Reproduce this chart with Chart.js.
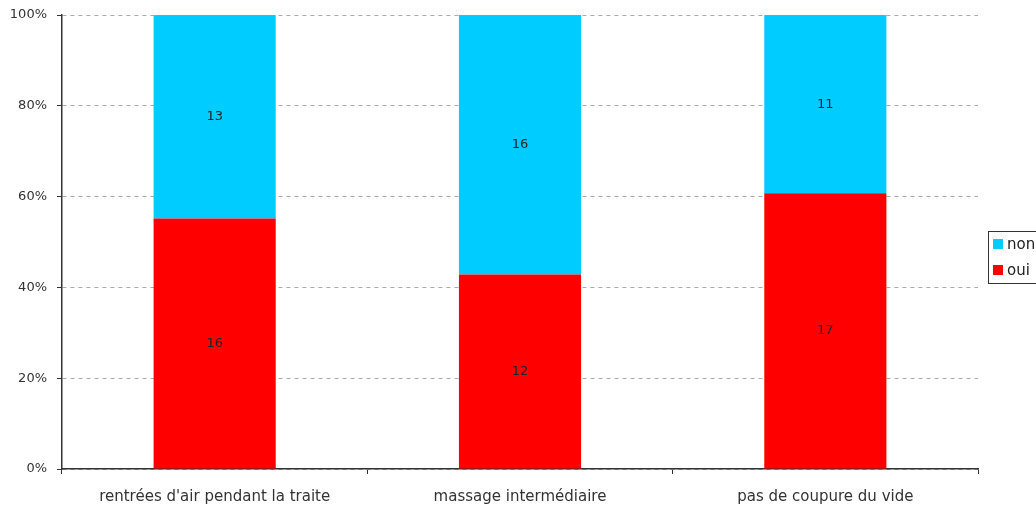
<!DOCTYPE html>
<html>
<head>
<meta charset="utf-8">
<script src="https://cdn.jsdelivr.net/npm/chart.js@4/dist/chart.umd.min.js"></script>
<style>
  html, body { margin: 0; padding: 0; background: #fff; }
  #wrap { width: 1036px; height: 507px; }
</style>
</head>
<body>
<div id="wrap"><canvas id="chart"></canvas></div>
<script>
const categories = ["rentrées d'air pendant la traite", "massage intermédiaire", "pas de coupure du vide"];
const ouiCounts = [16, 12, 17];
const nonCounts = [13, 16, 11];
const yTicks = [0, 20, 40, 60, 80, 100];

const totals = ouiCounts.map((v, i) => v + nonCounts[i]);
const toPct = (arr) => arr.map((v, i) => (v / totals[i]) * 100);

const FONT = "'DejaVu Sans', Verdana, sans-serif";

const segmentLabels = {
  id: "segmentLabels",
  afterDatasetsDraw(chart) {
    const ctx = chart.ctx;
    ctx.save();
    ctx.font = "13px " + FONT;
    ctx.fillStyle = "#222";
    ctx.textAlign = "center";
    ctx.textBaseline = "middle";
    chart.data.datasets.forEach((ds, di) => {
      chart.getDatasetMeta(di).data.forEach((bar, i) => {
        const mid = (bar.y + bar.base) / 2;
        ctx.fillText(String(ds.counts[i]), bar.x, mid);
      });
    });
    ctx.restore();
  },
};

const boxLegend = {
  id: "boxLegend",
  afterDraw(chart) {
    const ctx = chart.ctx;
    const area = chart.chartArea;
    const x = area.right + 10;
    const top = area.top + (area.bottom - area.top) / 2 - 11;
    ctx.save();
    ctx.strokeStyle = "#333";
    ctx.lineWidth = 1;
    ctx.strokeRect(x + 0.5, top + 0.5, 80, 52);
    const items = [
      { label: "non", color: "#00CCFF" },
      { label: "oui", color: "#FF0000" },
    ];
    ctx.font = "15px " + FONT;
    ctx.textBaseline = "middle";
    items.forEach((it, k) => {
      const cy = top + 13 + k * 26;
      ctx.fillStyle = it.color;
      ctx.fillRect(x + 5, cy - 5, 10, 10);
      ctx.fillStyle = "#222";
      ctx.fillText(it.label, x + 19, cy + 1);
    });
    ctx.restore();
  },
};

new Chart(document.getElementById("chart"), {
  type: "bar",
  data: {
    labels: categories,
    datasets: [
      {
        label: "oui",
        data: toPct(ouiCounts),
        counts: ouiCounts,
        backgroundColor: "#FF0000",
        categoryPercentage: 0.4,
        barPercentage: 1,
      },
      {
        label: "non",
        data: toPct(nonCounts),
        counts: nonCounts,
        backgroundColor: "#00CCFF",
        categoryPercentage: 0.4,
        barPercentage: 1,
      },
    ],
  },
  options: {
    responsive: true,
    maintainAspectRatio: false,
    animation: false,
    events: [],
    layout: { padding: { top: 15, right: 58, left: 0, bottom: 0 } },
    plugins: {
      legend: { display: false },
      tooltip: { enabled: false },
    },
    scales: {
      x: {
        stacked: true,
        offset: true,
        grid: {
          offset: true,
          drawOnChartArea: false,
          drawTicks: true,
          tickLength: 5,
          color: "#333",
        },
        border: { color: "#333", width: 1.5 },
        ticks: {
          color: "#333",
          font: { family: FONT, size: 15 },
          padding: 14,
          maxRotation: 0,
        },
        afterFit(scale) {
          scale.height = 38;
        },
      },
      y: {
        stacked: true,
        min: 0,
        max: 100,
        afterBuildTicks(scale) {
          scale.ticks = yTicks.map((v) => ({ value: v }));
        },
        grid: {
          color: "#AAAAAA",
          tickLength: 5,
          tickColor: "#333",
        },
        border: { color: "#333", width: 1.5, dash: [4, 4] },
        ticks: {
          color: "#333",
          font: { family: FONT, size: 13 },
          padding: 10,
          callback: (v) => v + "%",
        },
        afterFit(scale) {
          scale.width = 62;
          scale.paddingTop = 0;
          scale.paddingBottom = 0;
        },
      },
    },
  },
  plugins: [segmentLabels, boxLegend],
});
</script>
</body>
</html>
